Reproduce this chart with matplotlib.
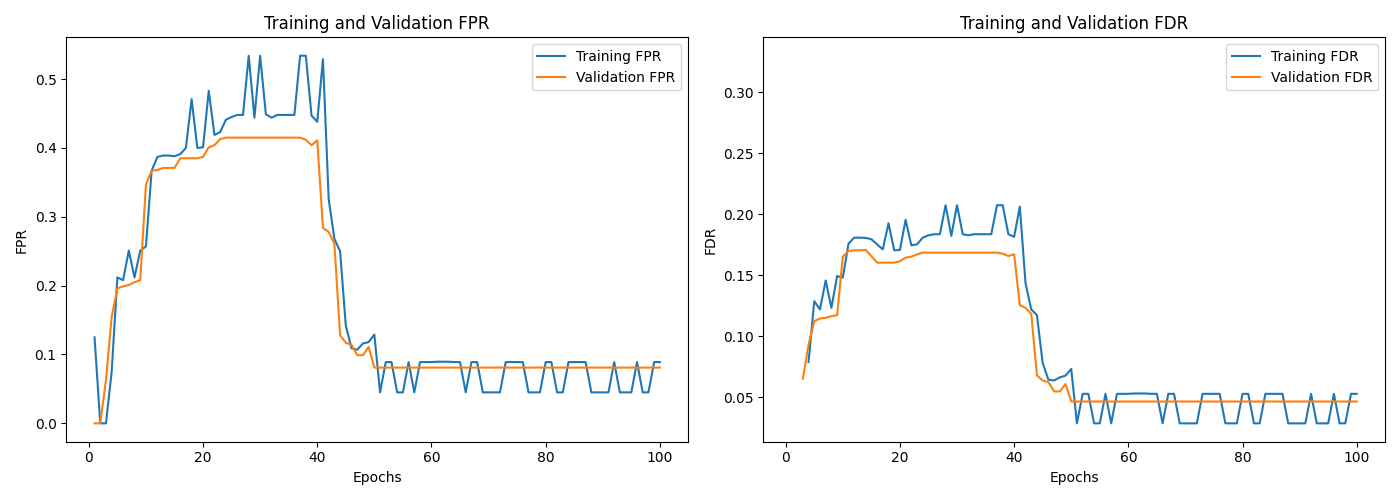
import numpy as np
import matplotlib
matplotlib.use('Agg')
import matplotlib.pyplot as plt

nan = np.nan

# Epochs
epochs = list(range(1, 101))

# Training / validation FPR per epoch
train_fpr = [
    0.125, 0.0, 0.0, 0.075, 0.212, 0.208, 0.251, 0.212, 0.251, 0.257,
    0.367, 0.387, 0.389, 0.389, 0.388, 0.391, 0.400, 0.471, 0.400, 0.401,
    0.483, 0.419, 0.423, 0.441, 0.445, 0.448, 0.448, 0.534, 0.444, 0.534,
    0.449, 0.444, 0.448, 0.448, 0.448, 0.448, 0.534, 0.534, 0.447, 0.438,
    0.529, 0.326, 0.268, 0.250, 0.142, 0.109, 0.107, 0.116, 0.118, 0.129,
    0.045, 0.089, 0.089, 0.045, 0.045, 0.089, 0.045, 0.089, 0.089, 0.089,
    0.0895, 0.0895, 0.0895, 0.089, 0.089, 0.045, 0.089, 0.089, 0.045, 0.045,
    0.045, 0.045, 0.089, 0.089, 0.089, 0.089, 0.045, 0.045, 0.045, 0.089,
    0.089, 0.045, 0.045, 0.089, 0.089, 0.089, 0.089, 0.045, 0.045, 0.045,
    0.045, 0.089, 0.045, 0.045, 0.045, 0.089, 0.045, 0.045, 0.089, 0.089,
]
val_fpr = [
    0.0, 0.0, 0.063, 0.155, 0.196, 0.199, 0.201, 0.205, 0.208, 0.347,
    0.367, 0.368, 0.371, 0.371, 0.371, 0.385, 0.385, 0.385, 0.385, 0.387,
    0.401, 0.404, 0.413, 0.415, 0.415, 0.415, 0.415, 0.415, 0.415, 0.415,
    0.415, 0.415, 0.415, 0.415, 0.415, 0.415, 0.415, 0.412, 0.404, 0.411,
    0.284, 0.278, 0.261, 0.128, 0.117, 0.114, 0.099, 0.099, 0.111, 0.081,
] + [0.081] * 50

# Training / validation FDR per epoch (NaN where undefined)
train_fdr = [
    0.330, nan, nan, 0.0788, 0.1287, 0.1219, 0.1457, 0.1232, 0.1493, 0.148,
    0.1759, 0.1808, 0.1808, 0.1806, 0.1795, 0.1753, 0.1712, 0.1926, 0.1704, 0.1707,
    0.1954, 0.1745, 0.1753, 0.1808, 0.1827, 0.1836, 0.1836, 0.2074, 0.1822, 0.2074,
    0.1836, 0.1827, 0.1836, 0.1836, 0.1836, 0.1836, 0.2074, 0.2074, 0.1836, 0.1814,
    0.2063, 0.1433, 0.1219, 0.1172, 0.078, 0.0643, 0.0637, 0.0662, 0.0676, 0.0731,
    0.0285, 0.0527, 0.0527, 0.0285, 0.0285, 0.0527, 0.0285, 0.0527, 0.0527, 0.0527,
    0.053, 0.053, 0.053, 0.0527, 0.0527, 0.0285, 0.0527, 0.0527, 0.0285, 0.0285,
    0.0285, 0.0285, 0.0527, 0.0527, 0.0527, 0.0527, 0.0285, 0.0285, 0.0285, 0.0527,
    0.0527, 0.0285, 0.0285, 0.0527, 0.0527, 0.0527, 0.0527, 0.0285, 0.0285, 0.0285,
    0.0285, 0.0527, 0.0285, 0.0285, 0.0285, 0.0527, 0.0285, 0.0285, 0.0527, 0.0527,
]
val_fdr = [
    nan, nan, 0.0651, 0.0931, 0.1123, 0.1145, 0.115, 0.1164, 0.1172, 0.1652,
    0.1699, 0.1704, 0.1704, 0.1707, 0.1657, 0.1603, 0.1603, 0.1603, 0.1603, 0.1614,
    0.1644, 0.1652, 0.1671, 0.1685, 0.1685, 0.1685, 0.1685, 0.1685, 0.1685, 0.1685,
    0.1685, 0.1685, 0.1685, 0.1685, 0.1685, 0.1685, 0.1685, 0.1677, 0.1657, 0.1671,
    0.1254, 0.1232, 0.1183, 0.0678, 0.0637, 0.0623, 0.0547, 0.0547, 0.0607, 0.0464,
] + [0.0464] * 50

fig, (ax1, ax2) = plt.subplots(1, 2, figsize=(14, 5))

ax1.plot(epochs, train_fpr, label='Training FPR')
ax1.plot(epochs, val_fpr, label='Validation FPR')
ax1.set_title('Training and Validation FPR')
ax1.set_xlabel('Epochs')
ax1.set_ylabel('FPR')
ax1.legend()

ax2.plot(epochs, train_fdr, label='Training FDR')
ax2.plot(epochs, val_fdr, label='Validation FDR')
ax2.set_title('Training and Validation FDR')
ax2.set_xlabel('Epochs')
ax2.set_ylabel('FDR')
ax2.legend()

plt.tight_layout()
plt.savefig('out.png', dpi=100)
